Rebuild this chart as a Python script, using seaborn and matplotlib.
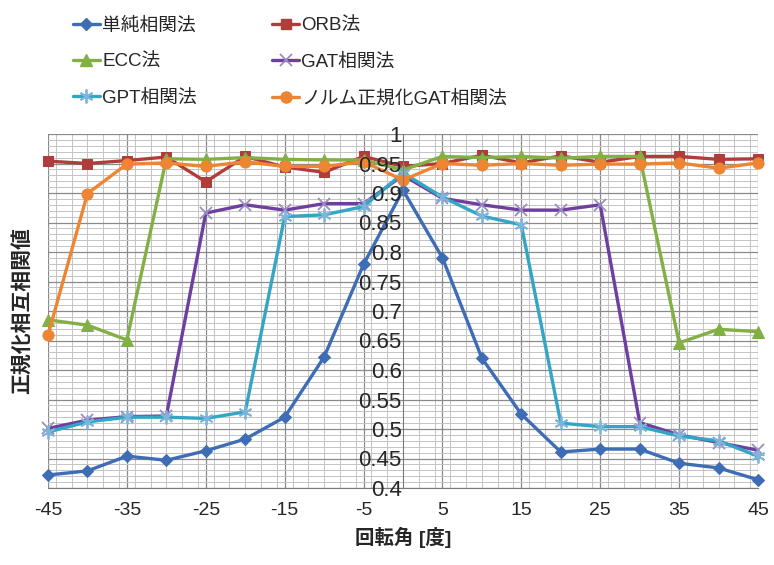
import matplotlib
matplotlib.use("Agg")
import matplotlib.pyplot as plt
import seaborn as sns
from matplotlib.ticker import MultipleLocator
from matplotlib.lines import Line2D

# rotation angle [deg]
angles = [-45, -40, -35, -30, -25, -20, -15, -10, -5, 0,
          5, 10, 15, 20, 25, 30, 35, 40, 45]

simple_corr = [0.422, 0.429, 0.454, 0.447, 0.463, 0.483, 0.520, 0.622, 0.779, 0.905,
               0.790, 0.620, 0.525, 0.461, 0.466, 0.466, 0.442, 0.434, 0.414]
orb = [0.954, 0.950, 0.955, 0.961, 0.919, 0.962, 0.944, 0.935, 0.962, 0.945,
       0.950, 0.964, 0.951, 0.963, 0.952, 0.962, 0.962, 0.957, 0.958]
ecc = [0.685, 0.676, 0.651, 0.958, 0.957, 0.960, 0.957, 0.956, 0.956, 0.939,
       0.962, 0.960, 0.962, 0.959, 0.962, 0.962, 0.646, 0.669, 0.665]
gat_corr = [0.501, 0.515, 0.521, 0.522, 0.866, 0.880, 0.871, 0.882, 0.882, 0.930,
            0.891, 0.880, 0.871, 0.871, 0.880, 0.511, 0.490, 0.477, 0.464]
gpt_corr = [0.495, 0.512, 0.520, 0.520, 0.518, 0.529, 0.860, 0.863, 0.877, 0.934,
            0.893, 0.861, 0.846, 0.510, 0.504, 0.504, 0.488, 0.480, 0.454]
norm_gat = [0.659, 0.899, 0.949, 0.951, 0.945, 0.953, 0.945, 0.945, 0.953, 0.922,
            0.950, 0.947, 0.950, 0.947, 0.949, 0.949, 0.951, 0.942, 0.951]

names = ["単純相関法", "ORB法", "ECC法", "GAT相関法", "GPT相関法", "ノルム正規化GAT相関法"]
values = [simple_corr, orb, ecc, gat_corr, gpt_corr, norm_gat]
ytick_vals = [0.4, 0.45, 0.5, 0.55, 0.6, 0.65, 0.7, 0.75, 0.8, 0.85, 0.9, 0.95, 1.0]
ytick_labels = ["0.4", "0.45", "0.5", "0.55", "0.6", "0.65", "0.7",
                "0.75", "0.8", "0.85", "0.9", "0.95", "1"]

styles = [
    dict(color="#3E6DB5", marker="D", markersize=6.5),
    dict(color="#B03C3C", marker="s", markersize=7.5),
    dict(color="#82B045", marker="^", markersize=8),
    dict(color="#6F3FA0", marker="x", markersize=8, markeredgecolor="#9A8BC2", markeredgewidth=1.3),
    dict(color="#35A5C5", marker=(6, 2, 0), markersize=10, markeredgecolor="#7DB4D9", markeredgewidth=1.3),
    dict(color="#EE8533", marker="o", markersize=8),
]

sns.set_style("white")
plt.rcParams["font.family"] = ["Liberation Sans Narrow", "Liberation Sans", "Noto Sans CJK JP", "DejaVu Sans"]
plt.rcParams["axes.unicode_minus"] = False

fig = plt.figure(figsize=(7.74, 5.65), dpi=100)
pos = [48 / 774, 1 - 488 / 565, 710 / 774, 354 / 565]
ax = fig.add_axes(pos)

for name, vals, st in zip(names, values, styles):
    st = dict(st)
    sns.lineplot(x=angles, y=vals, ax=ax, linewidth=2.4, clip_on=False,
                 markeredgecolor=st.pop("markeredgecolor", st["color"]), **st)

ax.set_xlim(-45, 45)
ax.set_ylim(0.4, 1.0)
ax.set_xticks(list(range(-45, 46, 10)))
ax.xaxis.set_minor_locator(MultipleLocator(2))
ax.set_yticks(ytick_vals)
ax.yaxis.set_minor_locator(MultipleLocator(0.01))

ax.grid(which="major", color="#8a8a8a", linewidth=0.9)
ax.grid(which="minor", color="#c4c4c4", linewidth=0.7)
ax.set_axisbelow(True)

for side in ["top", "right", "left"]:
    ax.spines[side].set_visible(False)
ax.spines["bottom"].set_color("#7a7a7a")

ax.tick_params(axis="x", which="major", direction="out", length=6, color="#7a7a7a",
               labelsize=14, pad=4)
ax.tick_params(axis="x", which="minor", length=0)
ax.tick_params(axis="y", which="both", length=0, labelleft=False)

ax.set_xlabel("回転角 [度]", fontsize=14, fontweight="bold", labelpad=6)
ax.set_ylabel("正規化相互相関値", fontsize=15, fontweight="bold")
ax.yaxis.set_label_coords(-0.022, 0.5)

# overlay axes: y axis at angle 0, labels drawn above the lines
ax_y = fig.add_axes(pos)
ax_y.set_xlim(-45, 45)
ax_y.set_ylim(0.4, 1.0)
ax_y.patch.set_visible(False)
ax_y.grid(False)
for side in ["top", "right", "bottom"]:
    ax_y.spines[side].set_visible(False)
ax_y.spines["left"].set_position(("data", 0))
ax_y.spines["left"].set_color("#7a7a7a")
ax_y.set_xticks([])
ax_y.set_yticks(ytick_vals)
ax_y.set_yticklabels(ytick_labels)
ax_y.tick_params(axis="y", which="both", length=0, labelsize=16, pad=1)

# legend: row-major order in two columns
handles = [Line2D([], [], linewidth=2.4, **st) for st in styles]
order = [0, 2, 4, 1, 3, 5]
fig.legend([handles[i] for i in order], [names[i] for i in order],
           ncol=2, loc="upper left", bbox_to_anchor=(56 / 774, 1.0),
           frameon=False, fontsize=13.5, handlelength=1.45, handletextpad=0.12,
           columnspacing=4.0, labelspacing=1.02)

plt.savefig("out.png", dpi=100)
plt.close()
